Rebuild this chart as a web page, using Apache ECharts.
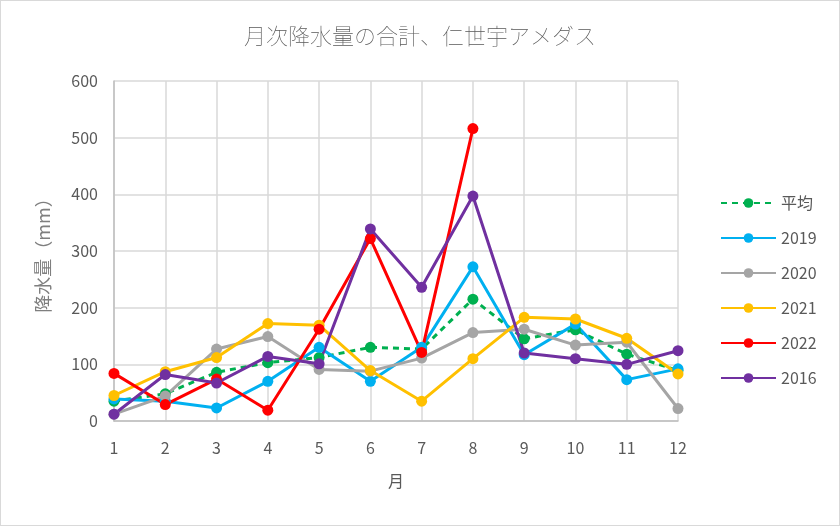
<!DOCTYPE html>
<html>
<head>
<meta charset="utf-8">
<script src="https://cdn.jsdelivr.net/npm/echarts@6/dist/echarts.min.js"></script>
<style>
  html, body { margin: 0; padding: 0; background: #fff; }
  #chart { width: 838px; height: 524px; border: 1px solid #d9d9d9; }
</style>
</head>
<body>
<div id="chart"></div>
<script>
const months = ['1', '2', '3', '4', '5', '6', '7', '8', '9', '10', '11', '12']
const yTicks = [0, 100, 200, 300, 400, 500, 600]

const avg = [35, 48, 86, 103, 112, 130, 127, 215, 145, 161, 118, 89]
const y2019 = [39, 35, 23, 70, 130, 70, 130, 272, 117, 171, 73, 92]
const y2020 = [12, 44, 127, 149, 91, 88, 111, 156, 162, 134, 139, 22]
const y2021 = [45, 87, 112, 172, 169, 89, 35, 110, 183, 180, 146, 83]
const y2022 = [84, 29, 74, 19, 162, 322, 121, 516]
const y2016 = [12, 82, 67, 114, 101, 339, 236, 397, 120, 110, 100, 124]

const FONT = '"Noto Sans CJK JP", "Noto Sans", sans-serif'
const TEXT = '#595959'

function line(name, data, color, dashed) {
  return {
    name,
    type: 'line',
    data,
    symbol: 'circle',
    symbolSize: 11,
    lineStyle: { color, width: 3, type: dashed ? [6, 5] : 'solid' },
    itemStyle: { color },
    emphasis: { disabled: true },
  }
}

const chart = echarts.init(document.getElementById('chart'))
chart.setOption({
  animation: false,
  textStyle: { fontFamily: FONT },
  title: {
    text: '月次降水量の合計、仁世宇アメダス',
    left: 'center',
    top: 19,
    textStyle: { fontSize: 22, fontWeight: 'lighter', color: TEXT, fontFamily: FONT },
  },
  grid: { left: 113, right: 161, top: 80, bottom: 104 },
  legend: {
    orient: 'vertical',
    left: 714,
    top: 189,
    itemWidth: 55,
    itemHeight: 12,
    itemGap: 19,
    textStyle: { fontSize: 16, color: TEXT, fontFamily: FONT },
    data: ['平均', '2019', '2020', '2021', '2022', '2016'],
  },
  xAxis: {
    type: 'category',
    data: months,
    boundaryGap: false,
    name: '月',
    nameLocation: 'middle',
    nameGap: 52,
    nameTextStyle: { fontSize: 16, color: TEXT },
    axisLine: { lineStyle: { color: '#bfbfbf', width: 1.5 } },
    axisTick: { show: false },
    axisLabel: { fontSize: 16, color: TEXT, margin: 19 },
    splitLine: { show: true, lineStyle: { color: '#d9d9d9', width: 1.5 } },
  },
  yAxis: {
    type: 'value',
    min: yTicks[0],
    max: yTicks[yTicks.length - 1],
    interval: 100,
    name: '降水量（mm）',
    nameLocation: 'middle',
    nameGap: 62,
    nameTextStyle: { fontSize: 18, color: '#7f7f7f' },
    axisLine: { show: true, lineStyle: { color: '#bfbfbf', width: 1.5 } },
    axisTick: { show: false },
    axisLabel: { fontSize: 16, color: TEXT, margin: 16 },
    splitLine: { lineStyle: { color: '#d9d9d9', width: 1.5 } },
  },
  series: [
    line('平均', avg, '#00b050', true),
    line('2019', y2019, '#00b0f0'),
    line('2020', y2020, '#a5a5a5'),
    line('2021', y2021, '#ffc000'),
    line('2022', y2022, '#ff0000'),
    line('2016', y2016, '#7030a0'),
  ],
})
</script>
</body>
</html>
